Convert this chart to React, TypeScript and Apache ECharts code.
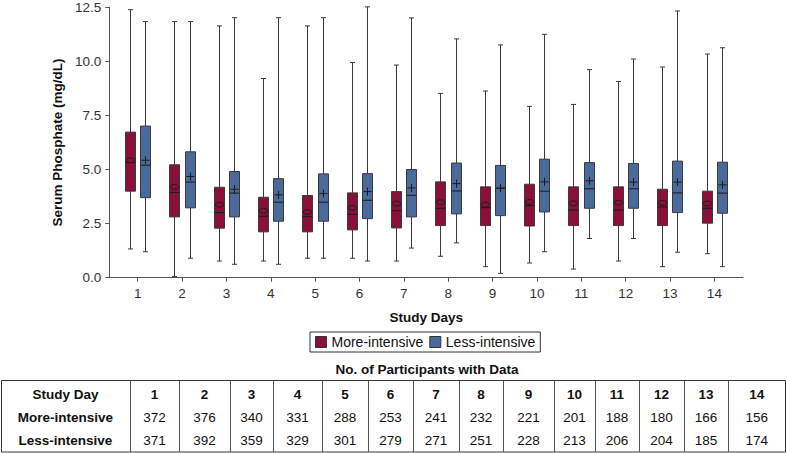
import React, { useEffect, useRef } from 'react';
import * as echarts from 'echarts';

const days = [1, 2, 3, 4, 5, 6, 7, 8, 9, 10, 11, 12, 13, 14];
const yTicks = [0, 2.5, 5, 7.5, 10, 12.5];

// More-intensive group
const moreMin = [1.33, 0.06, 0.77, 0.77, 0.9, 0.9, 0.77, 0.99, 0.51, 0.68, 0.4, 0.77, 0.51, 1.11];
const moreQ1 = [4.0, 2.81, 2.29, 2.12, 2.12, 2.21, 2.3, 2.41, 2.41, 2.39, 2.41, 2.41, 2.41, 2.52];
const moreMedian = [5.32, 3.94, 3.01, 2.84, 2.82, 2.93, 3.1, 3.21, 3.24, 3.33, 3.13, 3.13, 3.27, 3.21];
const moreQ3 = [6.73, 5.22, 4.18, 3.72, 3.8, 3.92, 3.98, 4.43, 4.2, 4.32, 4.2, 4.2, 4.09, 4.0];
const moreMax = [12.39, 11.84, 11.64, 9.21, 11.64, 9.95, 9.83, 8.52, 8.63, 7.92, 8.01, 9.07, 9.74, 10.34];
const moreMean = [5.43, 4.2, 3.37, 3.09, 3.04, 3.23, 3.43, 3.49, 3.38, 3.5, 3.44, 3.47, 3.46, 3.43];

// Less-intensive group
const lessMin = [1.2, 0.9, 0.62, 0.62, 0.9, 0.77, 1.37, 1.61, 0.2, 1.2, 1.81, 1.81, 1.18, 0.51];
const lessQ1 = [3.7, 3.23, 2.81, 2.61, 2.61, 2.73, 2.81, 2.95, 2.87, 3.04, 3.21, 3.21, 3.01, 2.98];
const lessMedian = [5.2, 4.42, 3.91, 3.49, 3.49, 3.58, 3.81, 4.01, 4.14, 4.0, 4.11, 4.11, 3.92, 3.91];
const lessQ3 = [7.01, 5.82, 4.91, 4.58, 4.8, 4.81, 5.0, 5.3, 5.19, 5.48, 5.32, 5.28, 5.39, 5.34];
const lessMax = [11.84, 11.84, 12.02, 12.02, 12.02, 12.52, 12.01, 11.04, 10.76, 11.25, 9.62, 10.11, 12.33, 10.63];
const lessMean = [5.43, 4.68, 4.09, 3.83, 3.89, 3.98, 4.15, 4.35, 4.14, 4.43, 4.48, 4.42, 4.42, 4.29];

// Participants table
const tableTitle = 'No. of Participants with Data';
const rowLabels = ['Study Day', 'More-intensive', 'Less-intensive'];
const moreCounts = [372, 376, 340, 331, 288, 253, 241, 232, 221, 201, 188, 180, 166, 156];
const lessCounts = [371, 392, 359, 329, 301, 279, 271, 251, 228, 213, 206, 204, 185, 174];

const RED = '#8a1039';
const BLUE = '#4a6a9c';
const FONT = '"Liberation Sans", Arial, Helvetica, sans-serif';

function makeRender(offset: number, marker: 'ellipse' | 'plus', fill: string) {
  return (params: any, api: any) => {
    const d = api.value(0);
    const base = api.coord([d, 0]);
    const cx = Math.round(base[0] + offset) + 0.5;
    const y = (k: number) => api.coord([d, api.value(k)])[1];
    const yMin = y(1), yQ1 = y(2), yMed = y(3), yQ3 = y(4), yMax = y(5), yMean = y(6);
    const hw = 5;
    const cap = 2.5;
    const ls = { stroke: '#3a3a3a', lineWidth: 1 };
    const children: any[] = [
      { type: 'line', shape: { x1: cx, y1: yMax, x2: cx, y2: yQ3 }, style: ls },
      { type: 'line', shape: { x1: cx, y1: yQ1, x2: cx, y2: yMin }, style: ls },
      { type: 'line', shape: { x1: cx - cap, y1: yMax, x2: cx + cap, y2: yMax }, style: ls },
      { type: 'line', shape: { x1: cx - cap, y1: yMin, x2: cx + cap, y2: yMin }, style: ls },
      {
        type: 'rect',
        shape: { x: cx - hw, y: yQ3, width: hw * 2, height: yQ1 - yQ3 },
        style: { fill, stroke: '#3a3a3a', lineWidth: 1 },
      },
      { type: 'line', shape: { x1: cx - hw, y1: yMed, x2: cx + hw, y2: yMed }, style: { stroke: '#1a1a1a', lineWidth: 1 } },
    ];
    if (marker === 'ellipse') {
      children.push({
        type: 'ellipse',
        shape: { cx, cy: yMean, rx: 4.2, ry: 2.4 },
        style: { fill: 'none', stroke: '#1a1a1a', lineWidth: 1 },
      });
    } else {
      children.push({ type: 'line', shape: { x1: cx - 4, y1: yMean, x2: cx + 4, y2: yMean }, style: { stroke: '#1a1a1a', lineWidth: 1 } });
      children.push({ type: 'line', shape: { x1: cx, y1: yMean - 4, x2: cx, y2: yMean + 4 }, style: { stroke: '#1a1a1a', lineWidth: 1 } });
    }
    return { type: 'group', children };
  };
}

function buildTable() {
  const cols = [1, 130, 179, 230, 273, 322, 368, 413, 459, 503, 554, 595, 639, 684, 728, 785.5];
  const top = 380.5;
  const bottom = 452;
  const rowY = [394.5, 417.5, 440.5];
  const els: any[] = [];
  els.push({
    type: 'text',
    style: { text: tableTitle, x: 427, y: 369, align: 'center', verticalAlign: 'middle', font: `bold 13.5px ${FONT}`, fill: '#111' },
  });
  els.push({
    type: 'rect',
    shape: { x: cols[0] + 0.5, y: top, width: cols[cols.length - 1] - cols[0] - 0.5, height: bottom - top },
    style: { fill: 'none', stroke: '#333', lineWidth: 1 },
  });
  for (let i = 1; i < cols.length - 1; i++) {
    els.push({
      type: 'line',
      shape: { x1: cols[i] + 0.5, y1: top, x2: cols[i] + 0.5, y2: bottom },
      style: { stroke: '#555', lineWidth: 1 },
    });
  }
  const rows = [days.map(String), moreCounts.map(String), lessCounts.map(String)];
  rows.forEach((row, r) => {
    els.push({
      type: 'text',
      style: {
        text: rowLabels[r],
        x: (cols[0] + cols[1]) / 2,
        y: rowY[r],
        align: 'center',
        verticalAlign: 'middle',
        font: `bold 13.5px ${FONT}`,
        fill: '#111',
      },
    });
    row.forEach((v, c) => {
      els.push({
        type: 'text',
        style: {
          text: v,
          x: (cols[c + 1] + cols[c + 2]) / 2,
          y: rowY[r],
          align: 'center',
          verticalAlign: 'middle',
          font: `${r === 0 ? 'bold ' : ''}13.5px ${FONT}`,
          fill: '#111',
        },
      });
    });
  });
  return els;
}

export default function App() {
  const ref = useRef<HTMLDivElement>(null);
  useEffect(() => {
    if (!ref.current) return;
    const chart = echarts.init(ref.current, null, { renderer: 'svg' });
    const moreData = days.map((d, i) => [d, moreMin[i], moreQ1[i], moreMedian[i], moreQ3[i], moreMax[i], moreMean[i]]);
    const lessData = days.map((d, i) => [d, lessMin[i], lessQ1[i], lessMedian[i], lessQ3[i], lessMax[i], lessMean[i]]);
    chart.setOption({
      animation: false,
      backgroundColor: '#ffffff',
      textStyle: { fontFamily: FONT },
      grid: { left: 109.3, right: 44, top: 7.3, bottom: 175.3, containLabel: false },
      xAxis: {
        type: 'value',
        min: 0.36,
        max: 14.645,
        name: 'Study Days',
        nameLocation: 'middle',
        nameGap: 33,
        nameTextStyle: { fontSize: 13.5, fontWeight: 'bold', color: '#111', fontFamily: FONT },
        axisLine: { show: true, lineStyle: { color: '#555', width: 1 } },
        axisTick: { show: true, length: 4, inside: false, customValues: days, lineStyle: { color: '#555' } },
        axisLabel: { show: true, customValues: days, margin: 9, fontSize: 13.5, color: '#333', fontFamily: FONT },
        splitLine: { show: false },
      },
      yAxis: {
        type: 'value',
        min: 0,
        max: 12.5,
        interval: 2.5,
        name: 'Serum Phosphate (mg/dL)',
        nameLocation: 'middle',
        nameGap: 41,
        nameTextStyle: { fontSize: 13.5, fontWeight: 'bold', color: '#111', fontFamily: FONT },
        axisLine: { show: true, lineStyle: { color: '#555', width: 1 } },
        axisTick: { show: true, length: 4, inside: false, lineStyle: { color: '#555' } },
        axisLabel: {
          show: true,
          margin: 8,
          fontSize: 13.5,
          color: '#333',
          fontFamily: FONT,
          formatter: (v: number) => (yTicks.includes(v) ? v.toFixed(1) : ''),
        },
        splitLine: { show: false },
      },
      legend: {
        show: true,
        left: 310,
        top: 332,
        orient: 'horizontal',
        padding: [3, 5, 3, 5],
        itemGap: 6,
        itemWidth: 11,
        itemHeight: 11,
        icon: 'rect',
        borderColor: '#333',
        borderWidth: 1,
        itemStyle: { borderColor: '#333', borderWidth: 1 },
        textStyle: { fontSize: 14, color: '#111', fontFamily: FONT, lineHeight: 14 },
        data: ['More-intensive', 'Less-intensive'],
      },
      series: [
        {
          name: 'More-intensive',
          type: 'custom',
          itemStyle: { color: RED },
          renderItem: makeRender(-7.85, 'ellipse', RED),
          encode: { x: 0, y: [1, 2, 3, 4, 5, 6] },
          data: moreData,
          clip: false,
        },
        {
          name: 'Less-intensive',
          type: 'custom',
          itemStyle: { color: BLUE },
          renderItem: makeRender(7.45, 'plus', BLUE),
          encode: { x: 0, y: [1, 2, 3, 4, 5, 6] },
          data: lessData,
          clip: false,
        },
      ],
      graphic: buildTable(),
    });
    return () => chart.dispose();
  }, []);
  return <div ref={ref} style={{ position: 'absolute', left: 0, top: 0, width: 787, height: 453 }} />;
}
